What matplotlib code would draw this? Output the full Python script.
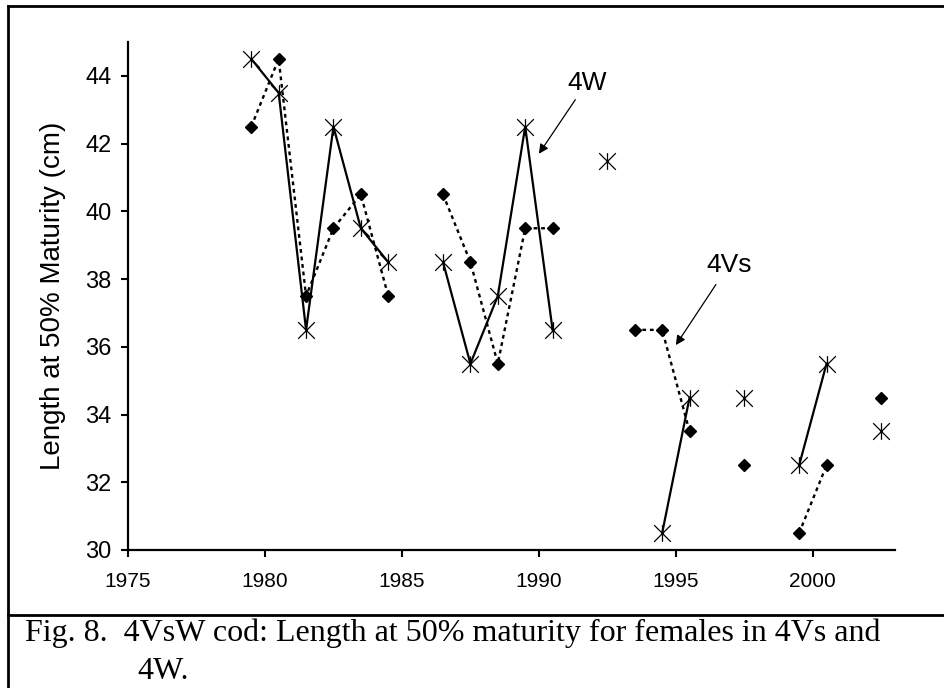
"""Length at 50% maturity for females, 4Vs and 4W cod (Fig. 8 recreation)."""
import numpy as np
import matplotlib
matplotlib.use("Agg")
import matplotlib.pyplot as plt
from matplotlib.path import Path
from matplotlib.lines import Line2D

years = np.arange(1979, 2003)
nan = np.nan
# 4W (asterisks, solid line)
len_4w = [44.5, 43.5, 36.5, 42.5, 39.5, 38.5, nan, 38.5, 35.5, 37.5, 42.5, 36.5,
          nan, 41.5, nan, 30.5, 34.5, nan, 34.5, nan, 32.5, 35.5, nan, 33.5]
# 4Vs (diamonds, dotted line)
len_4vs = [42.5, 44.5, 37.5, 39.5, 40.5, 37.5, nan, 40.5, 38.5, 35.5, 39.5, 39.5,
           nan, nan, 36.5, 36.5, 33.5, nan, 32.5, nan, 30.5, 32.5, nan, 34.5]

x_ticks = [1975, 1980, 1985, 1990, 1995, 2000]
y_ticks = [30, 32, 34, 36, 38, 40, 42, 44]

SANS = ["Liberation Sans", "DejaVu Sans"]
SERIF = ["Liberation Serif", "DejaVu Serif"]

# Excel-style asterisk: an X plus a vertical bar
star = Path([(-1, -1), (1, 1), (-1, 1), (1, -1), (0, -1), (0, 1)],
            [Path.MOVETO, Path.LINETO, Path.MOVETO, Path.LINETO,
             Path.MOVETO, Path.LINETO])

fig = plt.figure(figsize=(9.45, 6.88), dpi=100)
ax = fig.add_axes([128 / 945, 1 - 550 / 688, 767 / 945, 508 / 688])

x = years + 0.5  # plotted at mid-year
ax.plot(x, len_4vs, color="black", lw=1.7, linestyle=(0, (1.6, 1.6)),
        marker="D", markersize=6.5, markerfacecolor="black",
        markeredgecolor="black", zorder=3)
ax.plot(x, len_4w, color="black", lw=1.6, linestyle="-",
        marker=star, markersize=12, markerfacecolor="none",
        markeredgecolor="black", markeredgewidth=0.9, zorder=4)

ax.set_xlim(1975, 2003)
ax.set_ylim(30, 45)
ax.set_xticks(x_ticks)
ax.set_yticks(y_ticks)
for s in ("top", "right"):
    ax.spines[s].set_visible(False)
for s in ("left", "bottom"):
    ax.spines[s].set_linewidth(1.6)
ax.tick_params(axis="both", direction="out", length=5, width=1.5)
ax.tick_params(axis="x", pad=11, labelsize=15)
ax.tick_params(axis="y", pad=7, labelsize=17)
for lab in ax.get_xticklabels() + ax.get_yticklabels():
    lab.set_family(SANS)

ax.set_ylabel("Length at 50% Maturity (cm)", fontsize=20, family=SANS)
ax.yaxis.set_label_coords(-0.081, 0.5)

ax.annotate("4W", xy=(1990.0, 41.7), xytext=(1991.75, 43.8),
            ha="center", va="center", fontsize=19, family=SANS,
            arrowprops=dict(arrowstyle="-|>", color="black", lw=0.9,
                            mutation_scale=14, shrinkA=2, shrinkB=0))
ax.annotate("4Vs", xy=(1995.0, 36.05), xytext=(1996.93, 38.41),
            ha="center", va="center", fontsize=19, family=SANS,
            arrowprops=dict(arrowstyle="-|>", color="black", lw=0.9,
                            mutation_scale=14, shrinkA=4, shrinkB=0))

# outer frame and caption box
W, H = 945, 688
frame = dict(color="black", lw=2, transform=fig.transFigure)
fig.add_artist(Line2D([8 / W, 8 / W], [0, 1 - 6 / H], **frame))
fig.add_artist(Line2D([8 / W, 1], [1 - 6 / H, 1 - 6 / H], **frame))
fig.add_artist(Line2D([8 / W, 1], [1 - 615 / H, 1 - 615 / H], **frame))

fig.text(25 / W, 1 - 641 / H,
         "Fig. 8.  4VsW cod: Length at 50% maturity for females in 4Vs and",
         fontsize=23, family=SERIF, ha="left", va="baseline")
fig.text(137 / W, 1 - 679 / H, "4W.", fontsize=23, family=SERIF,
         ha="left", va="baseline")

fig.savefig("out.png", dpi=100)
